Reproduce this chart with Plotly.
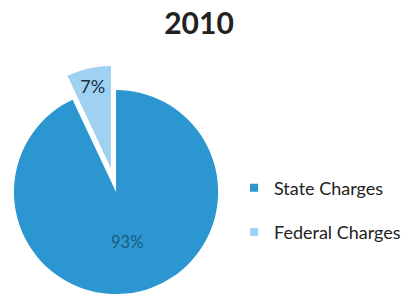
import math
import plotly.graph_objects as go

# ---- data ----
title_text = "2010"
categories = ["State Charges", "Federal Charges"]
values = [93, 7]
colors = ["#2b96d0", "#9fd2f2"]
pull_federal = 0.23

W, H = 406, 298
total = sum(values)

# pie geometry (pixels)
cx, cy, r = 120.5, 192.0, 106.0

def dom(cxp, cyp, rp):
    return dict(x=[(cxp - rp) / W, (cxp + rp) / W],
                y=[(H - (cyp + rp)) / H, (H - (cyp - rp)) / H])

# mid angle of the pulled (second) slice, clockwise from 12 o'clock
start = values[0] / total * 360.0
mid = math.radians(start + values[1] / total * 360.0 / 2)
off = pull_federal * r
fx, fy = cx + off * math.sin(mid), cy - off * math.cos(mid)

fig = go.Figure()

# main slice
fig.add_trace(go.Pie(
    labels=categories, values=values, sort=False, direction="clockwise", rotation=0,
    marker=dict(colors=[colors[0], "rgba(0,0,0,0)"], line=dict(width=0)),
    texttemplate=["%{percent:.0%}", ""], textposition="inside",
    insidetextorientation="horizontal",
    textfont=dict(family="Lato", size=16.5, color="#1d5a82"),
    domain=dom(cx, cy, r), showlegend=False, hoverinfo="label+percent",
))

# pulled-out slice
fig.add_trace(go.Pie(
    labels=categories, values=values, sort=False, direction="clockwise", rotation=0,
    marker=dict(colors=["rgba(0,0,0,0)", colors[1]], line=dict(width=0)),
    texttemplate=["", "%{percent:.0%}"], textposition="inside",
    insidetextorientation="horizontal",
    textfont=dict(family="Lato", size=18, color="#1c2b45"),
    domain=dom(fx, fy, r), showlegend=False, hoverinfo="label+percent",
))

# legend entries
for i, (lab, col) in enumerate(zip(categories, colors)):
    fig.add_trace(go.Scatter(
        x=[None], y=[None], mode="markers", name=lab, legendgroup=lab,
        marker=dict(symbol="square", size=8, color=col),
    ))

fig.update_layout(
    width=W, height=H,
    margin=dict(l=0, r=0, t=0, b=0),
    paper_bgcolor="white", plot_bgcolor="white",
    title=dict(text="<b>" + title_text + "</b>", x=199 / W, xanchor="center",
               y=1 - 23 / H, yanchor="middle",
               font=dict(family="Lato", size=30, color="#222222")),
    xaxis=dict(visible=False), yaxis=dict(visible=False),
    legend=dict(x=243 / W, xanchor="left", y=(H - 210) / H, yanchor="middle",
                font=dict(family="Lato", size=18, color="#222222"),
                tracegroupgap=18, bgcolor="rgba(0,0,0,0)"),
    showlegend=True,
)

fig.write_html("out.html", post_script="document.body.style.margin='0';",
               config={"displayModeBar": False})
